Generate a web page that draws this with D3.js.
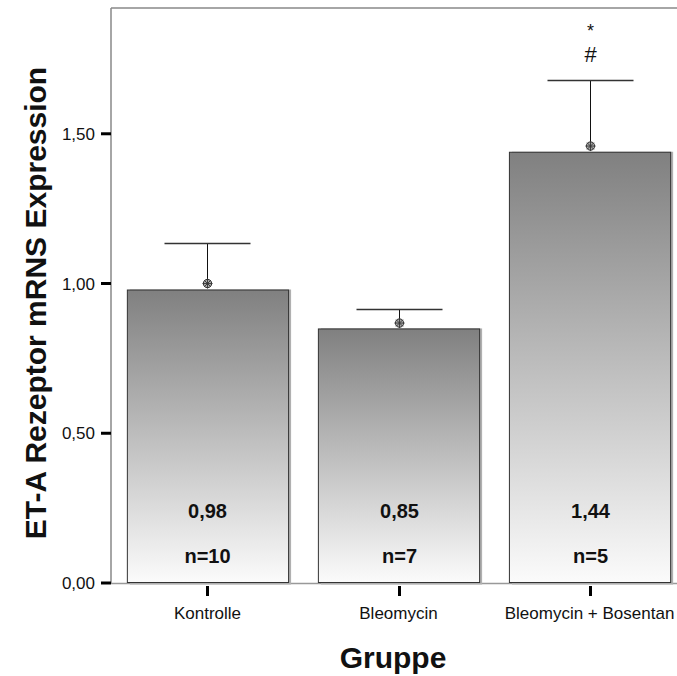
<!DOCTYPE html>
<html>
<head>
<meta charset="utf-8">
<script src="https://cdn.jsdelivr.net/npm/d3@7.9.0/dist/d3.min.js"></script>
<style>
  body { margin: 0; background: #fff; }
  svg { display: block; font-family: 'Liberation Sans', Arial, sans-serif; }
</style>
</head>
<body>
<svg width="677" height="676"></svg>
<script>
const groups = ['Kontrolle', 'Bleomycin', 'Bleomycin + Bosentan'];
const means = [0.98, 0.85, 1.44];
const markers = [1.00, 0.868, 1.459];
const errUpper = [1.135, 0.915, 1.678];
const counts = ['n=10', 'n=7', 'n=5'];
const marks = [[], [], ['*', '#']];
const yTicks = [0, 0.5, 1.0, 1.5];

const svg = d3.select('svg');
const fmt = (v) => d3.format('.2f')(v).replace('.', ',');

const x = d3.scaleBand()
  .domain(groups)
  .range([111, 686])
  .paddingInner(0.156)
  .paddingOuter(0.083);

const y = d3.scaleLinear().domain([0, 1.92]).range([583, 8]);

const defs = svg.append('defs');
const grad = defs.append('linearGradient')
  .attr('id', 'barGrad')
  .attr('x1', 0).attr('y1', 0).attr('x2', 0).attr('y2', 1);
grad.append('stop').attr('offset', '0%').attr('stop-color', '#808080');
grad.append('stop').attr('offset', '100%').attr('stop-color', '#fbfbfb');

// frame
svg.append('line')
  .attr('x1', 111).attr('x2', 686).attr('y1', 8).attr('y2', 8)
  .attr('stroke', '#888').attr('stroke-width', 1.5);
svg.append('line')
  .attr('x1', 111).attr('x2', 111).attr('y1', 8).attr('y2', 583)
  .attr('stroke', '#888').attr('stroke-width', 1.5);
svg.append('line')
  .attr('x1', 111).attr('x2', 686).attr('y1', 583.5).attr('y2', 583.5)
  .attr('stroke', '#999').attr('stroke-width', 1.5);

const data = groups.map((g, i) => ({
  g, mean: means[i], marker: markers[i], upper: errUpper[i], n: counts[i], marks: marks[i]
}));

// bar shadows
svg.selectAll('rect.shadow')
  .data(data)
  .enter()
  .append('rect')
  .attr('class', 'shadow')
  .attr('x', (d) => x(d.g) + 3)
  .attr('y', (d) => y(d.mean))
  .attr('width', x.bandwidth())
  .attr('height', (d) => y(0) - y(d.mean) + 1.5)
  .attr('fill', '#b0b0b0');

// bars
svg.selectAll('rect.bar')
  .data(data)
  .enter()
  .append('rect')
  .attr('class', 'bar')
  .attr('x', (d) => x(d.g) + 0.5)
  .attr('y', (d) => y(d.mean) + 0.5)
  .attr('width', x.bandwidth())
  .attr('height', (d) => y(0) - y(d.mean) - 1)
  .attr('fill', 'url(#barGrad)')
  .attr('stroke', '#333')
  .attr('stroke-width', 1);

// error bars
const cx = (d) => Math.round(x(d.g) + x.bandwidth() / 2) + 0.5;
svg.selectAll('line.err')
  .data(data)
  .enter()
  .append('line')
  .attr('x1', cx).attr('x2', cx)
  .attr('y1', (d) => y(d.marker))
  .attr('y2', (d) => y(d.upper))
  .attr('stroke', '#111').attr('stroke-width', 1);

svg.selectAll('line.cap')
  .data(data)
  .enter()
  .append('line')
  .attr('x1', (d) => cx(d) - 43).attr('x2', (d) => cx(d) + 43)
  .attr('y1', (d) => Math.round(y(d.upper)) + 0.5)
  .attr('y2', (d) => Math.round(y(d.upper)) + 0.5)
  .attr('stroke', '#333').attr('stroke-width', 1.3);

// markers
const mk = svg.selectAll('g.marker')
  .data(data)
  .enter()
  .append('g')
  .attr('transform', (d) => `translate(${cx(d)},${y(d.marker)})`);
mk.append('circle').attr('r', 4.2).attr('fill', '#aaa').attr('stroke', '#333').attr('stroke-width', 1);
mk.append('path').attr('d', 'M-5,0H5M0,-5V5M-3.4,-3.4L3.4,3.4M-3.4,3.4L3.4,-3.4')
  .attr('stroke', '#333').attr('stroke-width', 0.9);

// value labels
svg.selectAll('text.val')
  .data(data)
  .enter()
  .append('text')
  .attr('x', cx)
  .attr('y', 518)
  .attr('text-anchor', 'middle')
  .attr('font-size', 20)
  .attr('font-weight', 'bold')
  .attr('fill', '#111')
  .text((d) => fmt(d.mean));

svg.selectAll('text.n')
  .data(data)
  .enter()
  .append('text')
  .attr('x', cx)
  .attr('y', 563)
  .attr('text-anchor', 'middle')
  .attr('font-size', 20)
  .attr('font-weight', 'bold')
  .attr('fill', '#111')
  .text((d) => d.n);

// significance marks
data.forEach((d) => {
  d.marks.forEach((m) => {
    svg.append('text')
      .attr('x', cx(d))
      .attr('y', m === '*' ? 37 : 62)
      .attr('text-anchor', 'middle')
      .attr('font-size', m === '*' ? 18 : 22)
      .attr('fill', '#111')
      .text(m);
  });
});

// y ticks
svg.selectAll('line.ytick')
  .data(yTicks)
  .enter()
  .append('line')
  .attr('x1', 101).attr('x2', 111)
  .attr('y1', (d) => y(d)).attr('y2', (d) => y(d))
  .attr('stroke', '#000').attr('stroke-width', 3);

svg.selectAll('text.ylab')
  .data(yTicks)
  .enter()
  .append('text')
  .attr('x', 95)
  .attr('y', (d) => y(d) + 6)
  .attr('text-anchor', 'end')
  .attr('font-size', 17)
  .attr('fill', '#111')
  .text(fmt);

// x ticks
svg.selectAll('line.xtick')
  .data(groups)
  .enter()
  .append('line')
  .attr('x1', (g) => Math.round(x(g) + x.bandwidth() / 2) + 0.5)
  .attr('x2', (g) => Math.round(x(g) + x.bandwidth() / 2) + 0.5)
  .attr('y1', 586).attr('y2', 596)
  .attr('stroke', '#000').attr('stroke-width', 3);

svg.selectAll('text.xlab')
  .data(groups)
  .enter()
  .append('text')
  .attr('x', (g) => x(g) + x.bandwidth() / 2)
  .attr('y', 619)
  .attr('text-anchor', 'middle')
  .attr('font-size', 17)
  .attr('fill', '#111')
  .text((g) => g);

// axis titles
svg.append('text')
  .attr('x', 393)
  .attr('y', 668)
  .attr('text-anchor', 'middle')
  .attr('font-size', 30)
  .attr('font-weight', 'bold')
  .attr('fill', '#111')
  .text('Gruppe');

svg.append('text')
  .attr('transform', 'translate(46,303) rotate(-90)')
  .attr('text-anchor', 'middle')
  .attr('font-size', 30)
  .attr('font-weight', 'bold')
  .attr('fill', '#111')
  .text('ET-A Rezeptor mRNS Expression');
</script>
</body>
</html>
